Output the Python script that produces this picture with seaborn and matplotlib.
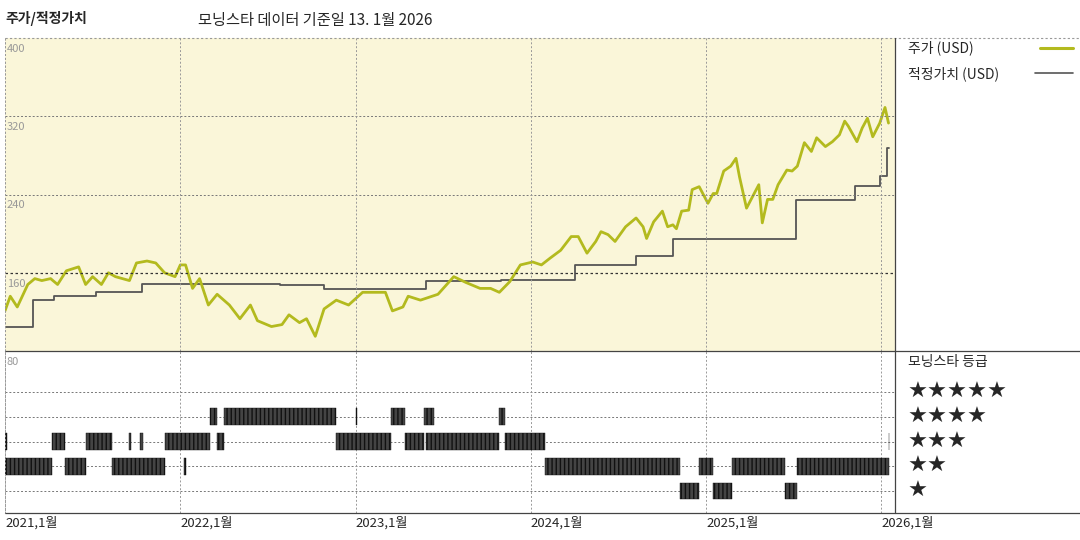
import matplotlib
matplotlib.use("Agg")
import matplotlib.pyplot as plt
import seaborn as sns
import pandas as pd

sns.set_theme(style="white")
plt.rcParams['font.family'] = ['Noto Sans CJK KR', 'DejaVu Sans']

# price (USD), x as decimal year
price_t = [2021.00, 2021.03, 2021.07, 2021.13, 2021.17, 2021.21, 2021.26, 2021.30, 2021.35, 2021.42,
           2021.46, 2021.50, 2021.55, 2021.59, 2021.63, 2021.71, 2021.75, 2021.81, 2021.86, 2021.91,
           2021.97, 2022.00, 2022.03, 2022.07, 2022.11, 2022.16, 2022.21, 2022.28, 2022.34, 2022.40,
           2022.44, 2022.52, 2022.58, 2022.62, 2022.68, 2022.72, 2022.77, 2022.82, 2022.89, 2022.96,
           2023.04, 2023.11, 2023.17, 2023.21, 2023.27, 2023.30, 2023.37, 2023.47, 2023.56, 2023.63,
           2023.71, 2023.77, 2023.82, 2023.88, 2023.94, 2024.01, 2024.06, 2024.11, 2024.17, 2024.23,
           2024.27, 2024.32, 2024.37, 2024.40, 2024.44, 2024.48, 2024.54, 2024.60, 2024.64, 2024.66,
           2024.70, 2024.75, 2024.78, 2024.81, 2024.83, 2024.86, 2024.90, 2024.92, 2024.96, 2025.01,
           2025.04, 2025.06, 2025.10, 2025.14, 2025.17, 2025.19, 2025.23, 2025.30, 2025.32, 2025.35,
           2025.38, 2025.41, 2025.46, 2025.49, 2025.52, 2025.56, 2025.60, 2025.63, 2025.68, 2025.72,
           2025.76, 2025.79, 2025.81, 2025.86, 2025.89, 2025.92, 2025.95, 2025.99, 2026.02, 2026.04]
price_v = [121, 136, 125, 148, 154, 152, 154, 148, 162, 166,
           148, 156, 148, 160, 156, 152, 170, 172, 170, 160,
           156, 168, 168, 144, 154, 127, 138, 127, 113, 127,
           111, 105, 107, 117, 109, 113, 95, 123, 132, 127,
           140, 140, 140, 121, 125, 136, 132, 138, 156, 150,
           144, 144, 140, 151, 168, 171, 168, 175, 183, 197,
           197, 180, 192, 202, 199, 192, 207, 216, 207, 195,
           212, 223, 207, 209, 205, 223, 224, 245, 248, 231,
           241, 241, 264, 269, 277, 258, 226, 250, 211, 235,
           235, 250, 265, 264, 269, 293, 284, 298, 289, 294,
           301, 315, 310, 294, 308, 318, 299, 313, 329, 313]

# fair value (USD), step changes
fair_t = [2021.00, 2021.16, 2021.28, 2021.52, 2021.78, 2022.31, 2022.57, 2022.82, 2023.40,
          2023.83, 2024.25, 2024.60, 2024.81, 2025.26, 2025.51, 2025.85, 2025.99, 2026.03, 2026.04]
fair_v = [105, 132, 136, 140, 149, 149, 147, 143, 152,
          153, 168, 177.5, 194, 194, 234, 249, 258.5, 287.5, 287.5]

# Morningstar rating periods: (stars, start, end)
rating_stars = [3, 2, 3, 2, 3, 2, 3, 3, 3, 2, 4, 3, 4, 3, 4, 3, 4, 3, 4, 3, 4, 3, 2, 1, 2, 1, 2, 1, 2, 3]
rating_start = [2020.99, 2021.00, 2021.27, 2021.34, 2021.46, 2021.61, 2021.71, 2021.77, 2021.91, 2022.02,
                2022.17, 2022.21, 2022.25, 2022.89, 2023.00, 2023.00, 2023.20, 2023.28, 2023.39, 2023.40,
                2023.82, 2023.85, 2024.08, 2024.85, 2024.96, 2025.04, 2025.15, 2025.45, 2025.52, 2026.04]
rating_end = [2021.01, 2021.27, 2021.34, 2021.46, 2021.61, 2021.91, 2021.72, 2021.79, 2022.17, 2022.03,
              2022.21, 2022.25, 2022.89, 2023.00, 2023.01, 2023.20, 2023.28, 2023.39, 2023.45, 2023.82,
              2023.85, 2024.08, 2024.85, 2024.96, 2025.04, 2025.15, 2025.45, 2025.52, 2026.04, 2026.045]

year_ticks = [2021, 2022, 2023, 2024, 2025, 2026]
year_labels = ["2021,1월", "2022,1월", "2023,1월", "2024,1월", "2025,1월", "2026,1월"]
y_ticks = [400, 320, 240, 160, 80]

W, H = 1080, 540
fig = plt.figure(figsize=(10.8, 5.4), dpi=100)
fig.patch.set_facecolor("white")

def box(l, t, r, b):
    return [l / W, 1 - b / H, (r - l) / W, (b - t) / H]

ax = fig.add_axes(box(5, 38, 895, 351))
ax2 = fig.add_axes(box(5, 351, 895, 513))
xmin, xmax = 2021.0, 2021.0 + 890 / 175.3

ax.set_facecolor("#faf6d9")
df_p = pd.DataFrame({"t": price_t, "v": price_v})
df_f = pd.DataFrame({"t": fair_t, "v": fair_v})
sns.lineplot(data=df_f, x="t", y="v", ax=ax, color="#555555", lw=1.3, drawstyle="steps-post")
sns.lineplot(data=df_p, x="t", y="v", ax=ax, color="#b3ba1e", lw=2.0)
ax.set_xlim(xmin, xmax)
ax.set_ylim(80, 400)
for yv in [320, 240]:
    ax.axhline(yv, color="#777777", lw=0.7, ls=(0, (2, 2)))
ax.axhline(160, color="#333333", lw=0.9, ls=(0, (2, 2)))
for xv in year_ticks:
    ax.axvline(xv, color="#999999", lw=0.7, ls=(0, (2, 2)))
    ax2.axvline(xv, color="#999999", lw=0.7, ls=(0, (2, 2)))
for yv in y_ticks[:4]:
    ax.text(xmin + 0.01, yv - 6, str(yv), color="#999999", fontsize=8, va="top", ha="left")
ax.set_xticks([]); ax.set_yticks([])
ax.set_xlabel(""); ax.set_ylabel("")
for s in ax.spines.values():
    s.set_visible(False)

# rating panel: 5 stars at the top
ax2.set_xlim(xmin, xmax)
ax2.set_ylim(0.11, 6.66)
for s in range(1, 6):
    ax2.axhline(s, color="#777777", lw=0.7, ls=(0, (2, 2)), zorder=0)
for st, a, b in zip(rating_stars, rating_start, rating_end):
    ax2.broken_barh([(a, b - a)], (st - 0.34, 0.68), facecolor="#444444",
                    edgecolor="#111111", hatch="||||", lw=0.3, zorder=2)
ax2.text(xmin + 0.01, 6.4, "80", color="#999999", fontsize=8, va="top", ha="left")
ax2.set_yticks([]); ax2.set_xticks([])
for s in ax2.spines.values():
    s.set_visible(False)

# frame lines
def hline(y, x0, x1, **kw):
    fig.add_artist(plt.Line2D([x0 / W, x1 / W], [1 - y / H, 1 - y / H], **kw))
def vline(x, y0, y1, **kw):
    fig.add_artist(plt.Line2D([x / W, x / W], [1 - y0 / H, 1 - y1 / H], **kw))

hline(38, 5, 1080, color="#999999", lw=0.8, ls=(0, (2, 2)))
hline(351, 5, 1080, color="#444444", lw=0.9)
hline(513, 5, 1080, color="#444444", lw=0.9)
vline(895, 38, 513, color="#444444", lw=0.9)
vline(5, 38, 513, color="#999999", lw=0.7, ls=(0, (2, 2)))

for xv, lab in zip(year_ticks, year_labels):
    fig.text((5 + (xv - 2021) * 175.3) / W, 1 - 516 / H, lab, fontsize=9.5, va="top", ha="left")

fig.text(5 / W, 1 - 18 / H, "주가/적정가치", fontsize=10, fontweight="bold", va="center")
fig.text(198 / W, 1 - 20 / H, "모닝스타 데이터 기준일 13. 1월 2026", fontsize=11, va="center")

fig.text(908 / W, 1 - 48 / H, "주가 (USD)", fontsize=10, va="center")
hline(48, 1040, 1073, color="#b3ba1e", lw=2.2)
fig.text(908 / W, 1 - 74 / H, "적정가치 (USD)", fontsize=10, va="center")
hline(73, 1035, 1073, color="#555555", lw=1.2)
fig.text(908 / W, 1 - 362 / H, "모닝스타 등급", fontsize=10, va="center")
for i, n in enumerate([5, 4, 3, 2, 1]):
    fig.text(908 / W, 1 - (392 + i * 24.75) / H, "★" * n, fontsize=16,
             va="center", family=['DejaVu Sans'])

fig.savefig("out.png", dpi=100)
